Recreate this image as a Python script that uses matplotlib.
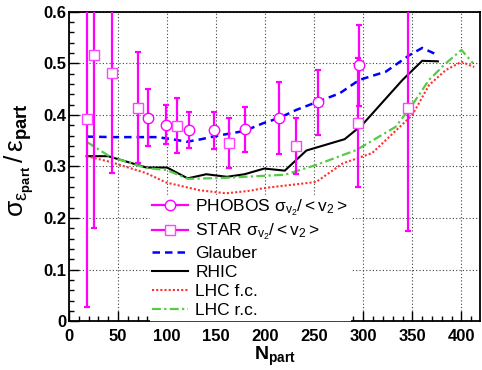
import matplotlib
matplotlib.use("Agg")
import matplotlib.pyplot as plt
from matplotlib.lines import Line2D
from matplotlib.ticker import MultipleLocator

plt.rcParams['font.family'] = ['Liberation Sans', 'DejaVu Sans']
plt.rcParams['mathtext.fontset'] = 'custom'
plt.rcParams['mathtext.rm'] = 'Liberation Sans'
plt.rcParams['mathtext.it'] = 'Liberation Sans:italic'
plt.rcParams['mathtext.bf'] = 'Liberation Sans:bold'

### data ###
phobos_x = [81, 99, 122, 148, 179, 214, 254, 296]
phobos_y = [0.395, 0.381, 0.370, 0.370, 0.372, 0.394, 0.425, 0.496]
phobos_err = [0.056, 0.038, 0.035, 0.036, 0.044, 0.069, 0.063, 0.079]

star_x = [18.6, 26, 43.4, 70.5, 110, 163, 231, 294.7, 346]
star_y = [0.392, 0.516, 0.481, 0.414, 0.379, 0.346, 0.340, 0.385, 0.414]
star_err = [0.365, 0.336, 0.193, 0.108, 0.053, 0.048, 0.054, 0.125, 0.239]

glauber_x = [18, 45, 90, 105, 120, 135, 147, 164, 179, 198, 214, 232, 254, 276, 296, 323, 347, 360, 376]
glauber_y = [0.358, 0.357, 0.357, 0.353, 0.348, 0.353, 0.358, 0.364, 0.369, 0.384, 0.394, 0.410,
             0.426, 0.442, 0.468, 0.484, 0.516, 0.530, 0.516]

rhic_x = [18, 40, 79, 100, 121, 140, 161, 179, 199, 220, 242, 281, 299, 340, 360, 376]
rhic_y = [0.320, 0.320, 0.298, 0.298, 0.277, 0.285, 0.280, 0.285, 0.296, 0.292, 0.331, 0.353,
          0.381, 0.468, 0.505, 0.504]

lhcfc_x = [18, 42, 79, 99, 133, 160, 185, 198, 252, 279, 309, 350, 367, 384, 400, 413]
lhcfc_y = [0.320, 0.309, 0.287, 0.269, 0.254, 0.248, 0.253, 0.258, 0.270, 0.306, 0.326, 0.400,
           0.458, 0.487, 0.503, 0.493]

lhcrc_x = [18, 42, 79, 100, 121, 160, 179, 220, 252, 293, 333, 350, 367, 384, 400, 412]
lhcrc_y = [0.348, 0.319, 0.297, 0.293, 0.276, 0.278, 0.280, 0.284, 0.303, 0.332, 0.377, 0.420,
           0.468, 0.500, 0.526, 0.500]

yticks = [0, 0.1, 0.2, 0.3, 0.4, 0.5, 0.6]
ytick_labels = ['0', '0.1', '0.2', '0.3', '0.4', '0.5', '0.6']
xticks = [0, 50, 100, 150, 200, 250, 300, 350, 400]

MAG = '#ff00ff'

fig = plt.figure(figsize=(4.82, 3.70), dpi=100)
ax = fig.add_axes([0.143, 0.132, 0.853, 0.836])

### model curves ###
ax.plot(glauber_x, glauber_y, color='#0000ff', lw=1.8, ls=(0, (3, 2)), zorder=3)
ax.plot(rhic_x, rhic_y, color='black', lw=1.5, zorder=3)
ax.plot(lhcfc_x, lhcfc_y, color='#ff3030', lw=1.5, ls=(0, (1, 1)), zorder=3)
ax.plot(lhcrc_x, lhcrc_y, color='#55cc44', lw=1.6, ls=(0, (4, 1.5, 1, 1.5)), zorder=3)

### data points ###
ax.errorbar(phobos_x, phobos_y, yerr=phobos_err, fmt='none', ecolor=MAG, elinewidth=1.6,
            capsize=2.2, capthick=1.6, zorder=4)
ax.plot(phobos_x, phobos_y, 'o', ms=7.5, mfc='white', mec=MAG, mew=1.0, ls='none', zorder=5)
ax.errorbar(star_x, star_y, yerr=star_err, fmt='none', ecolor=MAG, elinewidth=1.6,
            capsize=2.2, capthick=1.6, zorder=4)
ax.plot(star_x, star_y, 's', ms=7.5, mfc='white', mec='#ff44ff', mew=1.0, ls='none', zorder=5)

ax.set_xlim(0, 419)
ax.set_ylim(0, 0.6)
ax.set_xticks(xticks)
ax.set_yticks(yticks)
ax.set_yticklabels(ytick_labels)
ax.xaxis.set_minor_locator(MultipleLocator(10))
ax.yaxis.set_minor_locator(MultipleLocator(0.02))
ax.tick_params(which='both', direction='in', top=False, right=False, width=1.0)
ax.tick_params(which='major', length=7)
ax.tick_params(which='minor', length=3.5)
ax.tick_params(axis='x', which='major', pad=6, labelsize=12)
ax.tick_params(axis='y', which='major', pad=2, labelsize=12)
for lab in ax.get_xticklabels() + ax.get_yticklabels():
    lab.set_fontweight('bold')
for sp in ax.spines.values():
    sp.set_linewidth(1.3)
ax.grid(True, which='major', color='0.25', ls=(0, (1, 2)), lw=0.8)
ax.set_axisbelow(True)

ax.set_xlabel(r'$\mathbf{N}_{\mathbf{part}}$', fontsize=14)
ax.xaxis.set_label_coords(0.5, -0.075)
ax.set_ylabel(r'$\mathregular{σ_{ε_{\mathbf{part}}}\,/\,ε_{\mathbf{part}}}$', fontsize=19)
ax.yaxis.set_label_coords(-0.08, 0.52)

### legend ###
handles = [
    Line2D([], [], color=MAG, lw=1.6, marker='o', ms=7.5, mfc='white', mec=MAG, mew=1.0),
    Line2D([], [], color=MAG, lw=1.6, marker='s', ms=7.5, mfc='white', mec='#ff44ff', mew=1.0),
    Line2D([], [], color='#0000ff', lw=1.8, ls=(0, (3, 2))),
    Line2D([], [], color='black', lw=1.5),
    Line2D([], [], color='#ff3030', lw=1.5, ls=(0, (1, 1))),
    Line2D([], [], color='#55cc44', lw=1.6, ls=(0, (4, 1.5, 1, 1.5))),
]
labels = [r'PHOBOS $\mathregular{σ_{v_2}/{<}v_2{>}}$', r'STAR $\mathregular{σ_{v_2}/{<}v_2{>}}$',
          'Glauber', 'RHIC', 'LHC f.c.', 'LHC r.c.']
leg = ax.legend(handles, labels, loc='lower left', bbox_to_anchor=(0.197, 0.003),
                borderaxespad=0, fontsize=12.5, frameon=True, fancybox=False,
                framealpha=1, facecolor='white', edgecolor='white', handlelength=2.1,
                handletextpad=0.4, labelspacing=0.22, borderpad=0.12)
leg.set_zorder(6)

fig.savefig('out.png', dpi=100)
